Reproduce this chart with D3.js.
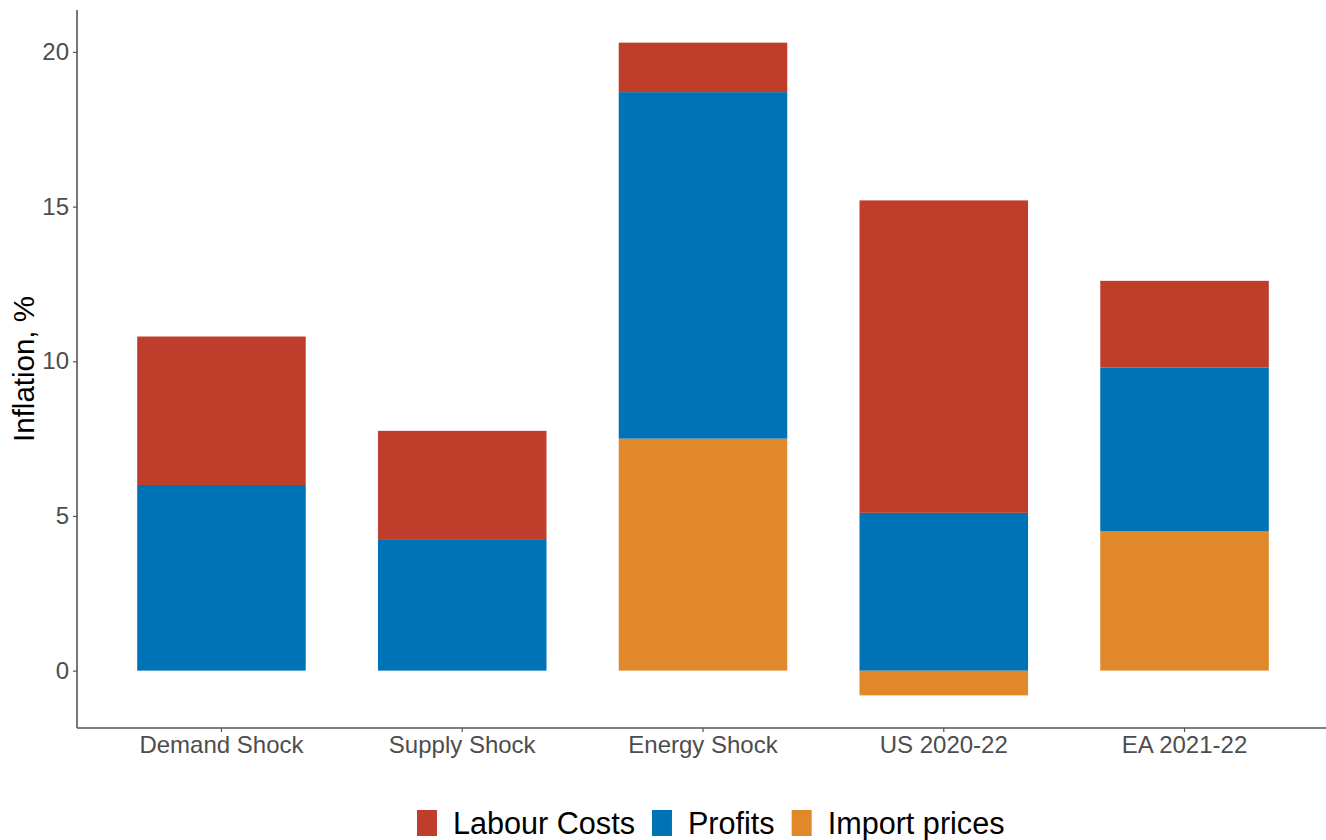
<!DOCTYPE html>
<html>
<head>
<meta charset="utf-8">
<script src="https://cdn.jsdelivr.net/npm/d3@7"></script>
<style>
  body { margin: 0; background: #fff; }
  svg { display: block; font-family: "Liberation Sans", Arial, sans-serif; }
</style>
</head>
<body>
<svg id="chart" width="1326" height="840"></svg>
<script>
// data
const categories = ["Demand Shock", "Supply Shock", "Energy Shock", "US 2020-22", "EA 2021-22"];
const labourCosts = [4.8, 3.5, 1.6, 10.1, 2.8];
const profits = [6.0, 4.25, 11.2, 5.1, 5.3];
const importPrices = [0, 0, 7.5, -0.8, 4.5];
const yTicks = [0, 5, 10, 15, 20];

const seriesNames = ["Import prices", "Profits", "Labour Costs"];   // bottom to top
const legendOrder = ["Labour Costs", "Profits", "Import prices"];
const colors = {
  "Labour Costs": "#bf3d2b",
  "Profits": "#0072b6",
  "Import prices": "#e0882a"
};

const svg = d3.select("#chart");
const pLeft = 77, pRight = 1329, pTop = 10, pBottom = 728;

const rows = categories.map((c, i) => ({
  cat: c,
  "Labour Costs": labourCosts[i],
  "Profits": profits[i],
  "Import prices": importPrices[i]
}));

const stacked = d3.stack()
  .keys(seriesNames)
  .offset(d3.stackOffsetDiverging)(rows);

// y domain with ggplot-style 5% expansion
const lo = d3.min(stacked, s => d3.min(s, d => d[0]));
const hi = d3.max(stacked, s => d3.max(s, d => d[1]));
const pad = (hi - lo) * 0.05;

const x = d3.scaleBand()
  .domain(categories)
  .range([pLeft, pRight])
  .paddingInner(0.3)
  .paddingOuter(0.25);

const y = d3.scaleLinear()
  .domain([lo - pad, hi + pad])
  .range([pBottom, pTop]);

// bars
svg.append("g")
  .selectAll("g")
  .data(stacked)
  .join("g")
  .attr("fill", d => colors[d.key])
  .selectAll("rect")
  .data(d => d)
  .join("rect")
  .attr("x", d => x(d.data.cat))
  .attr("width", x.bandwidth())
  .attr("y", d => y(Math.max(d[0], d[1])))
  .attr("height", d => Math.abs(y(d[0]) - y(d[1])));

// y axis
const yAxis = svg.append("g")
  .attr("transform", `translate(${pLeft},0)`)
  .call(d3.axisLeft(y).tickValues(yTicks).tickSize(4).tickPadding(4));
yAxis.select(".domain").remove();
svg.append("line")
  .attr("x1", pLeft).attr("x2", pLeft)
  .attr("y1", pTop).attr("y2", pBottom)
  .attr("stroke", "#555").attr("stroke-width", 1.6);

// x axis
const xAxis = svg.append("g")
  .attr("transform", `translate(0,${pBottom})`)
  .call(d3.axisBottom(x).tickSize(4).tickPadding(4));
xAxis.select(".domain").remove();
svg.append("line")
  .attr("x1", pLeft).attr("x2", 1326)
  .attr("y1", pBottom).attr("y2", pBottom)
  .attr("stroke", "#555").attr("stroke-width", 1.6);

svg.selectAll(".tick line").attr("stroke", "#555").attr("stroke-width", 1.2);
svg.selectAll(".tick text")
  .attr("fill", "#4d4d4d")
  .style("font-size", "24px")
  .style("font-family", "Liberation Sans, Arial, sans-serif");

// y title
svg.append("text")
  .attr("transform", `translate(34,${(pTop + pBottom) / 2}) rotate(-90)`)
  .attr("text-anchor", "middle")
  .style("font-size", "29.5px")
  .attr("fill", "#000")
  .text("Inflation, %");

// legend
const legend = svg.append("g");
let lx = 417;
legendOrder.forEach(name => {
  legend.append("rect")
    .attr("x", lx).attr("y", 810)
    .attr("width", 20).attr("height", 26)
    .attr("fill", colors[name]);
  const t = legend.append("text")
    .attr("x", lx + 36).attr("y", 834)
    .style("font-size", "30.6px")
    .attr("fill", "#000")
    .text(name);
  lx += 36 + t.node().getComputedTextLength() + 17;
});
</script>
</body>
</html>
